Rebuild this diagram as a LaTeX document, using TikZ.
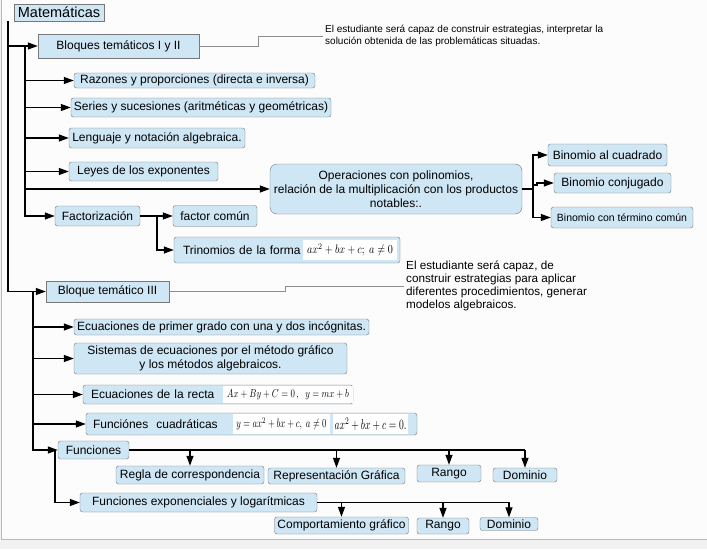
\documentclass[tikz,border=0pt]{standalone}
\usepackage[no-math]{fontspec}
\setmainfont{Liberation Sans}
\usetikzlibrary{arrows.meta}
\definecolor{boxblue}{RGB}{207,230,244}
\definecolor{boxline}{RGB}{120,120,120}
\definecolor{pagebg}{RGB}{252,252,252}

\begin{document}
\begin{tikzpicture}[x=1pt,y=-1pt,
    box/.style={draw=boxline,fill=boxblue,rounded corners=2.5pt,inner xsep=3pt,inner ysep=0pt,
      font=\fontsize{12}{14}\selectfont},
    sqbox/.style={box,sharp corners},
    mathbox/.style={fill=white,inner sep=0pt},
    link/.style={line width=1.2pt},
    arrowto/.style={link,-{Triangle[length=10pt,width=7pt]}},
    noteline/.style={draw=gray!90,line width=0.8pt}]

  % Page
  \useasboundingbox (0,0) rectangle (707,549);
  \fill[gray!10] (0,0) rectangle (707,549);
  \fill[pagebg] (1,0) rectangle (707,539);
  \draw[gray!55] (1,0) -- (1,539) -- (707,539);

  % Bloques I y II
  \node[sqbox,minimum width=90,minimum height=17,font=\fontsize{14.5}{16}\selectfont] (mat) at (59,12.5) {Matemáticas};
  \node[sqbox,minimum width=161,minimum height=24] (bl12) at (118.5,46) {Bloques temáticos I y II};
  \node[anchor=west,align=left,inner sep=2pt,font=\fontsize{10}{12}\selectfont] (n12) at (323,36)
    {El estudiante será capaz de construir estrategias, interpretar la\\solución obtenida de las problemáticas situadas.};
  \node[box,minimum width=241,minimum height=15] (raz) at (194.5,80.5) {Razones y proporciones (directa e inversa)};
  \node[box,minimum width=254,minimum height=19] (ser) at (201,107.5) {Series y sucesiones (aritméticas y geométricas)};
  \node[box,minimum width=176,minimum height=20] (len) at (157,138) {Lenguaje y notación algebraica.};
  \node[box,minimum width=149,minimum height=19] (ley) at (143.5,171.5) {Leyes de los exponentes};
  \node[box,rounded corners=7pt,minimum width=252,minimum height=50,align=center] (ops) at (396,189)
    {Operaciones con polinomios,\\relación de la multiplicación con los productos\\notables:.};
  \node[box,minimum width=85,minimum height=20] (fact) at (97.5,216) {Factorización};
  \node[box,minimum width=84,minimum height=21] (fc) at (215,216) {factor común};
  \node[box,minimum width=226,minimum height=26,text width=220,align=left] (tri) at (287,250)
    {\hspace{6pt}Trinomios de la forma};
  \node[mathbox,minimum width=94,minimum height=20] (trim) at (350,250)
    {\resizebox{86pt}{10pt}{$ax^2+bx+c;\ a\neq 0$}};
  \node[box,minimum width=119,minimum height=22] (bin1) at (607.5,155) {Binomio al cuadrado};
  \node[box,minimum width=117,minimum height=20] (bin2) at (612.5,183) {Binomio conjugado};
  \node[box,minimum width=142,minimum height=21,font=\fontsize{10.5}{12}\selectfont] (bin3) at (622,217.5) {Binomio con término común};

  % Bloque III
  \node[sqbox,minimum width=123,minimum height=21] (bl3) at (107.5,291.5) {Bloque temático III};
  \node[anchor=west,align=left,inner sep=2pt,font=\fontsize{11.7}{13}\selectfont] (n3) at (404,286)
    {El estudiante será capaz, de\\construir estrategias para aplicar\\diferentes procedimientos, generar\\modelos algebraicos.};
  \node[box,minimum width=295,minimum height=16] (ec1) at (221.5,327) {Ecuaciones de primer grado con una y dos incógnitas.};
  \node[box,minimum width=273,minimum height=31,align=center] (sis) at (210.5,358.5)
    {Sistemas de ecuaciones por el método gráfico\\y los métodos algebraicos.};
  \node[box,minimum width=270,minimum height=19,text width=264,align=left] (rec) at (218,394.5)
    {\hspace{5pt}Ecuaciones de la recta};
  \node[mathbox,minimum width=130,minimum height=17] (recm) at (288,394.5)
    {\resizebox{122pt}{8pt}{$Ax+By+C=0\,,\ \ y=mx+b$}};
  \node[box,minimum width=331,minimum height=22,text width=325,align=left] (cua) at (251.5,424)
    {\hspace{4pt}Funciónes\ \ cuadráticas};
  \node[mathbox,minimum width=97,minimum height=20] (cuam1) at (281.5,424)
    {\resizebox{90pt}{10pt}{$y=ax^2+bx+c,\ a\neq 0$}};
  \node[mathbox,minimum width=75,minimum height=20] (cuam2) at (370.5,424)
    {\resizebox{72pt}{11.5pt}{$ax^2+bx+c=0.$}};
  \node[box,minimum width=71,minimum height=18] (fun) at (93.5,450) {Funciones};
  \node[box,minimum width=148,minimum height=18] (reg) at (190,475) {Regla de correspondencia};
  \node[box,minimum width=137,minimum height=16] (rep) at (336.5,476) {Representación Gráfica};
  \node[box,minimum width=64,minimum height=17] (ran1) at (449,473.5) {Rango};
  \node[box,minimum width=64,minimum height=14] (dom1) at (525,475) {Dominio};
  \node[box,minimum width=237,minimum height=19] (fexp) at (198.5,502.5) {Funciones exponenciales y logarítmicas};
  \node[box,minimum width=133,minimum height=17] (com) at (341.5,525.5) {Comportamiento gráfico};
  \node[box,minimum width=52,minimum height=16] (ran2) at (443,526) {Rango};
  \node[box,minimum width=58,minimum height=13] (dom2) at (509,524) {Dominio};

  % Trunk lines
  \coordinate (t0) at (8,21);
  \coordinate (t1) at (25,46);
  \coordinate (t2) at (33,291.5);
  \coordinate (t3) at (55,450);
  \draw[link] (mat.south west -| t0) -- (t0);
  \draw[arrowto] (t0) |- (bl3.west);
  \draw[arrowto] (t0 |- bl12.west) -- (bl12.west);

  \draw[arrowto] (t1) |- (fact.west);
  \foreach \n in {raz,ser,len,ley,ops}
    \draw[arrowto] (t1 |- \n.west) -- (\n.west);

  \draw[arrowto] (t2) |- (fun.west);
  \foreach \n in {ec1,sis,rec,cua}
    \draw[arrowto] (t2 |- \n.west) -- (\n.west);
  \draw[arrowto] (t3) |- (fexp.west);

  % Sub-branches
  \coordinate (f1) at (157,216);
  \draw[link] (fact.east) -- (f1);
  \draw[arrowto] (f1) -- (fc.west);
  \draw[arrowto] (f1) |- (tri.west);

  \coordinate (o1) at (533,189);
  \coordinate (o2) at (537,185);
  \draw[link] (ops.east) -- (o1);
  \draw[arrowto] (o1) |- (bin1.west);
  \draw[arrowto] (o1) |- (bin3.west);
  \draw[arrowto] (o1 |- o2) -- (o2) |- (bin2.west);

  \coordinate (g1) at (525,450);
  \draw[link] (fun.east) -- (g1);
  \foreach \n in {reg,rep,ran1,dom1}
    \draw[arrowto] (\n.north |- g1) -- (\n.north);

  \coordinate (g2) at (510,502.5);
  \draw[link] (fexp.east) -- (g2);
  \foreach \n in {com,ran2,dom2}
    \draw[arrowto] (\n.north |- g2) -- (\n.north);

  % Notes
  \coordinate (k12) at (258,46);
  \draw[noteline] (bl12.east) -- (k12) |- (n12.west);
  \coordinate (k3) at (285,291.5);
  \draw[noteline] (bl3.east) -- (k3) |- (n3.west);

\end{tikzpicture}
\end{document}
